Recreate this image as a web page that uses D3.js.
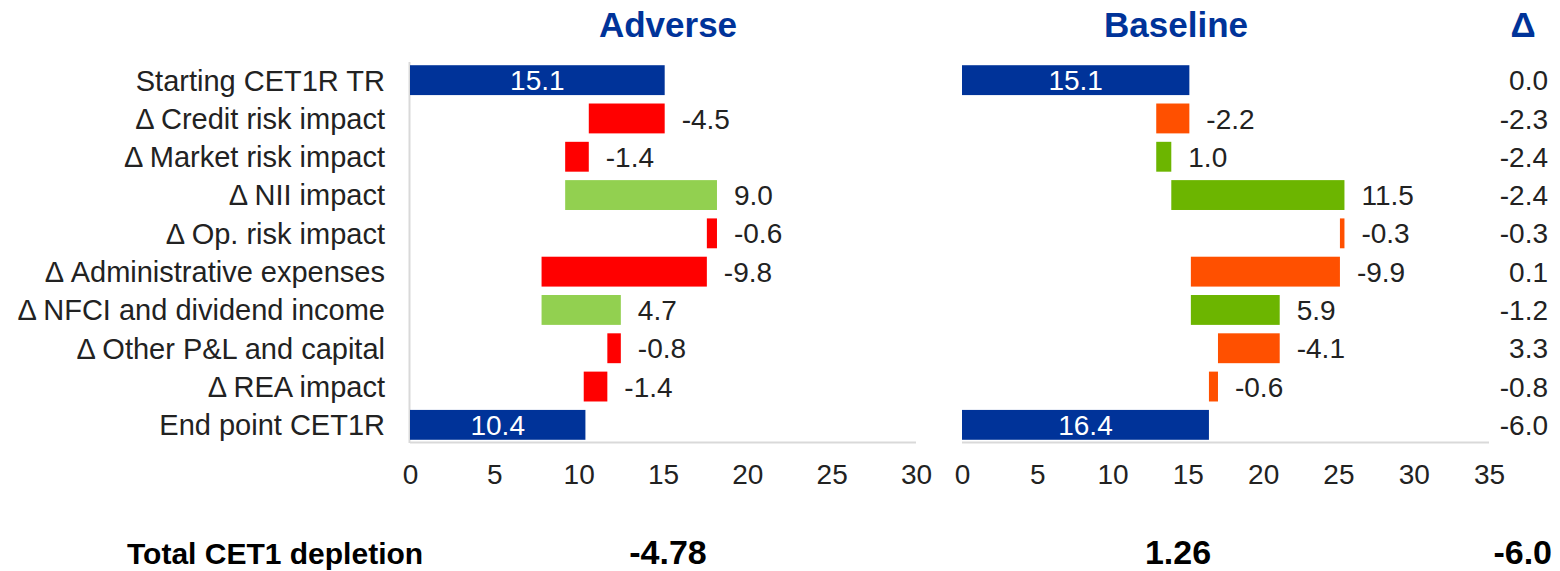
<!DOCTYPE html>
<html>
<head>
<meta charset="utf-8">
<script src="https://cdn.jsdelivr.net/npm/d3@7"></script>
<style>
  body { margin: 0; background: #fff; }
  text { font-family: "Liberation Sans", Arial, sans-serif; }
</style>
</head>
<body>
<svg></svg>
<script>
// chart data
var categories = ['Starting CET1R TR', '\u0394 Credit risk impact', '\u0394 Market risk impact',
  '\u0394 NII impact', '\u0394 Op. risk impact', '\u0394 Administrative expenses',
  '\u0394 NFCI and dividend income', '\u0394 Other P&L and capital', '\u0394 REA impact', 'End point CET1R'];
var adverseValues = [15.1, -4.5, -1.4, 9.0, -0.6, -9.8, 4.7, -0.8, -1.4, 10.4];
var baselineValues = [15.1, -2.2, 1.0, 11.5, -0.3, -9.9, 5.9, -4.1, -0.6, 16.4];
var deltaValues = ['0.0', '-2.3', '-2.4', '-2.4', '-0.3', '0.1', '-1.2', '3.3', '-0.8', '-6.0'];
var adverseTicks = [0, 5, 10, 15, 20, 25, 30];
var baselineTicks = [0, 5, 10, 15, 20, 25, 30, 35];
var totals = { label: 'Total CET1 depletion', adverse: '-4.78', baseline: '1.26', delta: '-6.0' };

var svgWidth = 1560;
var svgHeight = 571;

var svg = d3.select('svg')
  .attr('width', svgWidth)
  .attr('height', svgHeight);

var y = d3.scaleBand()
  .domain(categories)
  .range([61, 444])
  .paddingInner(0.22)
  .paddingOuter(0.11);

// plain hyphen instead of the unicode minus d3.format gives
var fmt = function(v) { return v.toFixed(1); };

// turn values into waterfall segments
function waterfall(vals) {
  var run = 0;
  return vals.map(function(v, i) {
    var total = (i == 0 || i == vals.length - 1);
    var seg;
    if (total) {
      seg = { x0: 0, x1: v, v: v, total: true };
      run = v;
    } else {
      seg = { x0: Math.min(run, run + v), x1: Math.max(run, run + v), v: v, total: false };
      run = run + v;
    }
    seg.cat = categories[i];
    return seg;
  });
}

function drawPanel(opts) {
  var x = d3.scaleLinear()
    .domain([0, d3.max(opts.ticks)])
    .range(opts.range);

  var g = svg.append('g');

  // bottom axis line
  g.append('line')
    .attr('x1', x(0)).attr('x2', x(d3.max(opts.ticks)))
    .attr('y1', 442.5).attr('y2', 442.5)
    .attr('stroke', '#d9d9d9').attr('stroke-width', 2);

  if (opts.leftLine) {
    g.append('line')
      .attr('x1', x(0) - 0.5).attr('x2', x(0) - 0.5)
      .attr('y1', 62).attr('y2', 443)
      .attr('stroke', '#d9d9d9').attr('stroke-width', 2);
  }

  var axis = g.append('g')
    .attr('transform', 'translate(0,' + 456 + ')')
    .call(d3.axisBottom(x).tickValues(opts.ticks).tickSize(0).tickPadding(0));
  axis.select('.domain').remove();
  axis.selectAll('text')
    .attr('dy', '1em')
    .attr('font-size', 28)
    .attr('fill', '#222')
    .style('font-family', '"Liberation Sans", Arial, sans-serif');

  var segs = waterfall(opts.values);

  g.selectAll('rect.bar')
    .data(segs)
    .enter().append('rect')
    .attr('class', 'bar')
    .attr('x', function(d) { return x(d.x0); })
    .attr('width', function(d) { return x(d.x1) - x(d.x0); })
    .attr('y', function(d) { return y(d.cat); })
    .attr('height', y.bandwidth())
    .attr('fill', function(d) {
      if (d.total) return '#003399';
      return d.v < 0 ? opts.neg : opts.pos;
    });

  g.selectAll('text.val')
    .data(segs)
    .enter().append('text')
    .attr('class', 'val')
    .attr('x', function(d) { return d.total ? (x(d.x0) + x(d.x1)) / 2 : x(d.x1) + 17; })
    .attr('y', function(d) { return y(d.cat) + y.bandwidth() / 2; })
    .attr('dy', '0.36em')
    .attr('text-anchor', function(d) { return d.total ? 'middle' : 'start'; })
    .attr('font-size', 28)
    .attr('fill', function(d) { return d.total ? '#fff' : '#222'; })
    .text(function(d) { return fmt(d.v); });

  svg.append('text')
    .attr('x', opts.titleX)
    .attr('y', 37)
    .attr('text-anchor', 'middle')
    .attr('font-size', 35)
    .attr('font-weight', 'bold')
    .attr('fill', '#003399')
    .text(opts.title);
}

// category labels
svg.append('g').selectAll('text')
  .data(categories)
  .enter().append('text')
  .attr('x', 385)
  .attr('y', function(d) { return y(d) + y.bandwidth() / 2; })
  .attr('dy', '0.36em')
  .attr('text-anchor', 'end')
  .attr('font-size', 29)
  .attr('fill', '#222')
  .text(function(d) { return d; });

drawPanel({ values: adverseValues, ticks: adverseTicks, range: [410, 916], leftLine: true,
  neg: '#ff0000', pos: '#92d050', title: 'Adverse', titleX: 668 });
drawPanel({ values: baselineValues, ticks: baselineTicks, range: [962, 1489], leftLine: false,
  neg: '#ff5000', pos: '#6cb500', title: 'Baseline', titleX: 1176 });

// delta column
svg.append('text')
  .attr('x', 1523).attr('y', 37)
  .attr('text-anchor', 'middle')
  .attr('font-size', 35).attr('font-weight', 'bold')
  .attr('fill', '#003399')
  .text('\u0394');

svg.append('g').selectAll('text')
  .data(deltaValues)
  .enter().append('text')
  .attr('x', 1548)
  .attr('y', function(d, i) { return y(categories[i]) + y.bandwidth() / 2; })
  .attr('dy', '0.36em')
  .attr('text-anchor', 'end')
  .attr('font-size', 28)
  .attr('fill', '#222')
  .text(function(d) { return d; });

// totals row
svg.append('text')
  .attr('x', 127).attr('y', 564)
  .attr('font-size', 30).attr('font-weight', 'bold')
  .attr('fill', '#000')
  .text(totals.label);
svg.append('text')
  .attr('x', 668).attr('y', 564)
  .attr('text-anchor', 'middle')
  .attr('font-size', 34).attr('font-weight', 'bold')
  .attr('fill', '#000')
  .text(totals.adverse);
svg.append('text')
  .attr('x', 1178).attr('y', 564)
  .attr('text-anchor', 'middle')
  .attr('font-size', 34).attr('font-weight', 'bold')
  .attr('fill', '#000')
  .text(totals.baseline);
svg.append('text')
  .attr('x', 1552).attr('y', 564)
  .attr('text-anchor', 'end')
  .attr('font-size', 34).attr('font-weight', 'bold')
  .attr('fill', '#000')
  .text(totals.delta);
</script>
</body>
</html>
